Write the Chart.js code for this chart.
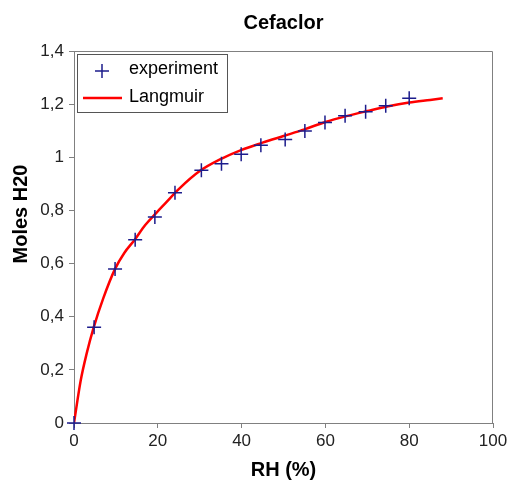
<!DOCTYPE html>
<html>
<head>
<meta charset="utf-8">
<script src="https://cdn.jsdelivr.net/npm/chart.js@4/dist/chart.umd.min.js"></script>
<style>
  html, body { margin: 0; padding: 0; background: #fff; }
  #wrap { width: 507px; height: 482px; }
</style>
</head>
<body>
<div id="wrap"><canvas id="chart" width="507" height="482"></canvas></div>
<script>
// Data
const rhExp = [0, 4.8, 9.8, 14.6, 19.3, 24.1, 30.4, 35.2, 39.9, 44.6, 50.4, 55.1, 59.9, 64.7, 69.6, 74.4, 80];
const molesExp = [0, 0.36, 0.58, 0.69, 0.775, 0.867, 0.951, 0.976, 1.011, 1.045, 1.067, 1.099, 1.131, 1.156, 1.171, 1.194, 1.222];

const rhFit = [0, 1.6, 3, 4.7, 7, 9.8, 12, 14.5, 17, 19.6, 22, 25, 30, 35, 40, 45, 50, 55, 60, 65, 70, 75, 80, 85, 88];
const molesFit = [0, 0.16, 0.26, 0.36, 0.47, 0.58, 0.64, 0.69, 0.745, 0.79, 0.83, 0.88, 0.948, 0.993, 1.028, 1.055, 1.08, 1.105, 1.133, 1.155, 1.174, 1.192, 1.206, 1.216, 1.222];

const xTicks = { min: 0, max: 100, step: 20 };
const yTicks = { min: 0, max: 1.4, step: 0.2 };

const chartTitle = "Cefaclor";
const xTitle = "RH (%)";
const yTitle = "Moles H20";
const seriesNames = ["experiment", "Langmuir"];

const FONT = "'Liberation Sans', Arial, sans-serif";
const BLUE = "#1c1c8c";
const RED = "#ff0000";
const GRAY = "#808080";

const toPoints = (xs, ys) => xs.map((x, i) => ({ x: x, y: ys[i] }));

// top/right frame, y title and the legend box
const framePlugin = {
  id: "frame",
  afterDraw(chart) {
    const ctx = chart.ctx;
    const a = chart.chartArea;
    ctx.save();
    ctx.strokeStyle = GRAY;
    ctx.lineWidth = 1;
    ctx.beginPath();
    ctx.moveTo(a.left, a.top + 0.5);
    ctx.lineTo(a.right - 0.5, a.top + 0.5);
    ctx.lineTo(a.right - 0.5, a.bottom);
    ctx.stroke();

    // y axis title
    ctx.fillStyle = "#000";
    ctx.font = "bold 20px " + FONT;
    ctx.textAlign = "center";
    ctx.textBaseline = "middle";
    ctx.translate(21, 214);
    ctx.rotate(-Math.PI / 2);
    ctx.fillText(yTitle, 0, 0);
    ctx.restore();

    // legend
    ctx.save();
    const lx = a.left + 3, ly = a.top + 3, lw = 150, lh = 58;
    ctx.fillStyle = "#fff";
    ctx.fillRect(lx, ly, lw, lh);
    ctx.strokeStyle = "#555";
    ctx.lineWidth = 1;
    ctx.strokeRect(lx + 0.5, ly + 0.5, lw, lh);

    ctx.strokeStyle = BLUE;
    ctx.lineWidth = 1.5;
    ctx.beginPath();
    ctx.moveTo(lx + 18, ly + 17); ctx.lineTo(lx + 32, ly + 17);
    ctx.moveTo(lx + 25, ly + 10); ctx.lineTo(lx + 25, ly + 24);
    ctx.stroke();

    ctx.strokeStyle = RED;
    ctx.lineWidth = 2.5;
    ctx.beginPath();
    ctx.moveTo(lx + 6, ly + 44); ctx.lineTo(lx + 45, ly + 44);
    ctx.stroke();

    ctx.fillStyle = "#000";
    ctx.font = "18px " + FONT;
    ctx.textAlign = "left";
    ctx.textBaseline = "middle";
    ctx.fillText(seriesNames[0], lx + 52, ly + 15);
    ctx.fillText(seriesNames[1], lx + 52, ly + 43);
    ctx.restore();
  }
};

const ctx = document.getElementById("chart").getContext("2d");
new Chart(ctx, {
  type: "scatter",
  data: {
    datasets: [
      {
        label: seriesNames[0],
        data: toPoints(rhExp, molesExp),
        pointStyle: "cross",
        pointRadius: 7,
        pointBorderWidth: 1.5,
        borderColor: BLUE,
        backgroundColor: BLUE,
        showLine: false,
        clip: false,
        order: 0
      },
      {
        label: seriesNames[1],
        data: toPoints(rhFit, molesFit),
        showLine: true,
        pointRadius: 0,
        borderColor: RED,
        borderWidth: 2.5,
        cubicInterpolationMode: "monotone",
        order: 1
      }
    ]
  },
  options: {
    responsive: false,
    animation: false,
    layout: { padding: { left: 0, right: 14, top: 0, bottom: 0 } },
    plugins: {
      legend: { display: false },
      tooltip: { enabled: false },
      title: {
        display: true,
        fullSize: false,
        text: chartTitle,
        color: "#000",
        font: { family: FONT, size: 20, weight: "bold", lineHeight: 1.2 },
        padding: { top: 11, bottom: 16 }
      }
    },
    scales: {
      x: {
        type: "linear",
        min: xTicks.min,
        max: xTicks.max,
        ticks: {
          stepSize: xTicks.step,
          color: "#222",
          font: { family: FONT, size: 17 },
          padding: 3,
          maxRotation: 0
        },
        grid: { drawOnChartArea: false, drawTicks: true, tickLength: 5, color: GRAY },
        border: { display: true, color: GRAY, width: 1 },
        title: {
          display: true,
          text: xTitle,
          color: "#000",
          font: { family: FONT, size: 20, weight: "bold", lineHeight: 1.2 },
          padding: { top: 0, bottom: 0 }
        },
        afterFit(scale) {
          scale.height = 59;
          scale.paddingLeft = 0;
          scale.paddingRight = 0;
        }
      },
      y: {
        type: "linear",
        min: yTicks.min,
        max: yTicks.max,
        ticks: {
          stepSize: yTicks.step,
          color: "#222",
          font: { family: FONT, size: 17 },
          padding: 5,
          callback: (v) => String(Number(v.toFixed(1))).replace(".", ",")
        },
        grid: { drawOnChartArea: false, drawTicks: true, tickLength: 5, color: GRAY },
        border: { display: true, color: GRAY, width: 1 },
        afterFit(scale) { scale.width = 74; }
      }
    }
  },
  plugins: [framePlugin]
});
</script>
</body>
</html>
